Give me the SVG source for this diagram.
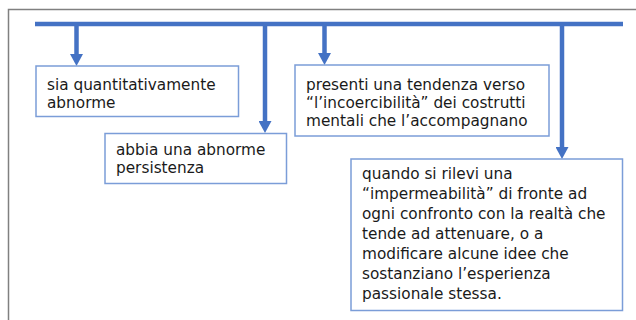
<svg xmlns="http://www.w3.org/2000/svg" width="636" height="320" viewBox="0 0 636 320">
  <style>
    .frame { fill: #ffffff; stroke: #808080; stroke-width: 1.5; }
    .box { fill: #ffffff; stroke: #7b9dd8; stroke-width: 1.5; }
    .conn { stroke: #4472c4; stroke-width: 4.5; fill: none; }
    .txt { font-family: "DejaVu Sans", "Liberation Sans", sans-serif; font-size: 15.3px; fill: #1a1a1a; }
  </style>
  <defs>
    <marker id="arrow" markerUnits="userSpaceOnUse" markerWidth="13" markerHeight="13" refX="0" refY="6.5" orient="auto" viewBox="0 0 12 13">
      <path d="M0,0 L12,6.5 L0,13 z" fill="#4472c4"/>
    </marker>
  </defs>
  <rect class="frame" x="8.5" y="9.5" width="640" height="330"/>
  <g id="connectors">
    <line class="conn" x1="35" y1="24" x2="623" y2="24"/>
    <line class="conn" x1="76.5" y1="24" x2="76.5" y2="54" marker-end="url(#arrow)"/>
    <line class="conn" x1="265" y1="24" x2="265" y2="121" marker-end="url(#arrow)"/>
    <line class="conn" x1="324.5" y1="24" x2="324.5" y2="53" marker-end="url(#arrow)"/>
    <line class="conn" x1="562" y1="24" x2="562" y2="147" marker-end="url(#arrow)"/>
  </g>
  <g id="node1">
    <rect class="box" x="36" y="66" width="202.5" height="50.5"/>
    <text class="txt" x="47" y="90">sia quantitativamente</text>
    <text class="txt" x="47" y="108">abnorme</text>
  </g>
  <g id="node2">
    <rect class="box" x="105" y="133.5" width="181.5" height="50"/>
    <text class="txt" x="116" y="155">abbia una abnorme</text>
    <text class="txt" x="116" y="173">persistenza</text>
  </g>
  <g id="node3">
    <rect class="box" x="295" y="65" width="254" height="71"/>
    <text class="txt" x="306" y="90">presenti una tendenza verso</text>
    <text class="txt" x="306" y="108">“l’incoercibilità” dei costrutti</text>
    <text class="txt" x="306" y="126">mentali che l’accompagnano</text>
  </g>
  <g id="node4">
    <rect class="box" x="351" y="159" width="271.5" height="151.5"/>
    <text class="txt" x="362" y="179">quando si rilevi una</text>
    <text class="txt" x="362" y="199">“impermeabilità” di fronte ad</text>
    <text class="txt" x="362" y="219">ogni confronto con la realtà che</text>
    <text class="txt" x="362" y="239">tende ad attenuare, o a</text>
    <text class="txt" x="362" y="259">modificare alcune idee che</text>
    <text class="txt" x="362" y="279">sostanziano l’esperienza</text>
    <text class="txt" x="362" y="299">passionale stessa.</text>
  </g>
</svg>
